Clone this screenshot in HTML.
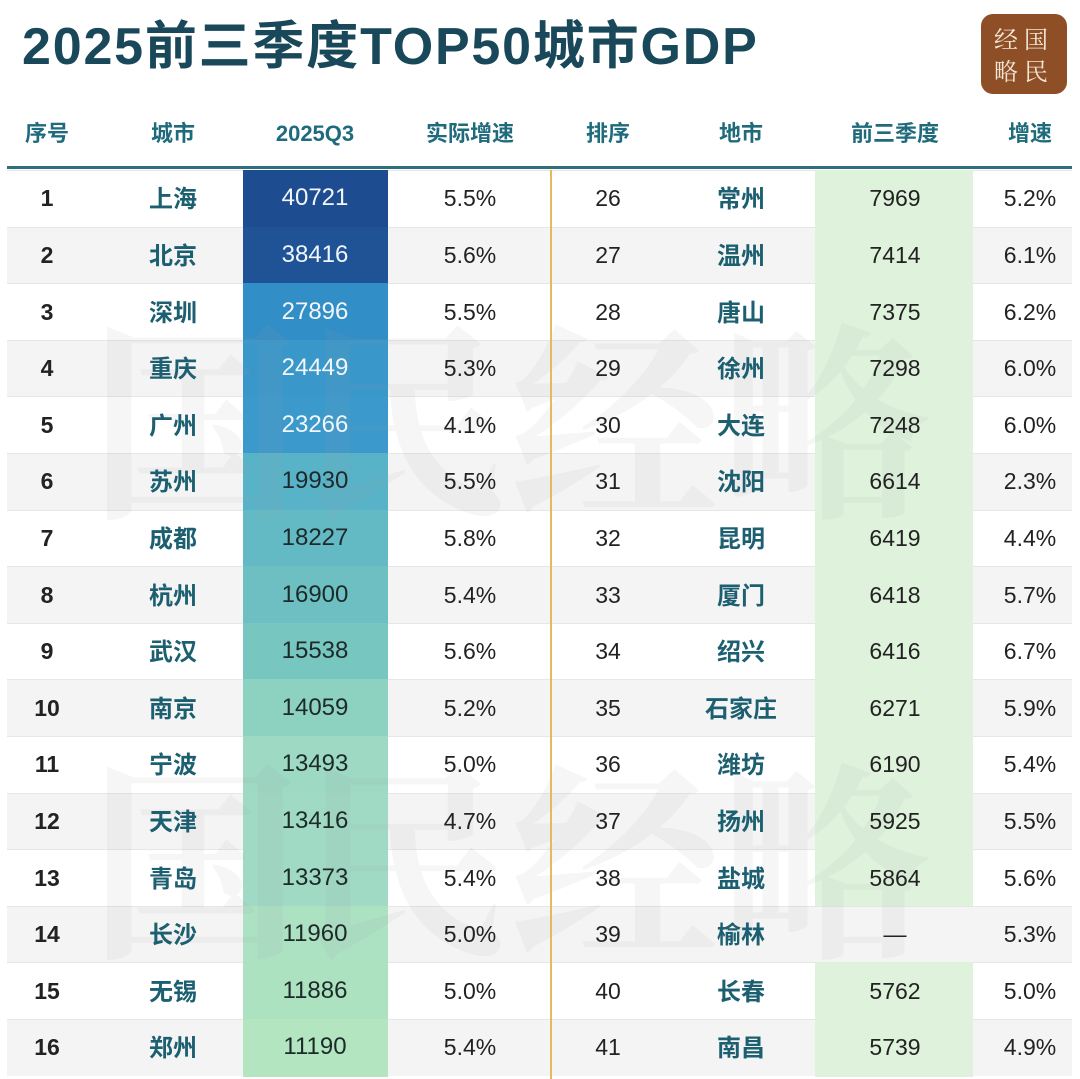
<!DOCTYPE html>
<html><head><meta charset="utf-8">
<style>
body{margin:0;width:1080px;height:1079px;overflow:hidden;background:#fff;font-family:"Liberation Sans","Noto Sans CJK SC",sans-serif;position:relative}
.abs{position:absolute}
.title{left:22px;top:12px;font-size:52px;line-height:70px;font-weight:bold;color:#18485a;letter-spacing:1.8px;white-space:nowrap;font-family:"Liberation Sans","Noto Sans CJK SC",sans-serif}
.logo{left:981px;top:14px;width:86px;height:80px;background:#8e4f26;border-radius:12px;color:#f3e6d6;font-family:"Noto Serif CJK SC",serif;font-size:24px;line-height:32px;text-align:center;padding-top:8px;box-sizing:border-box;letter-spacing:6px}
.hd{top:118px;height:32px;line-height:32px;font-size:22px;font-weight:bold;color:#1f6b7c;transform:translateX(-50%);white-space:nowrap}
.cell{font-size:23px;line-height:30px;color:#222;transform:translate(-50%,-50%);white-space:nowrap}
.city{font-weight:bold;color:#1c5f70;font-size:24px;margin-top:2px}
.idx{font-weight:bold}
.wm{color:rgba(150,160,165,0.09);font-size:210px;font-weight:bold;white-space:nowrap;font-family:"Noto Serif CJK SC",serif}
</style></head><body>
<div class="abs title">2025前三季度TOP50城市GDP</div>
<div class="abs logo">经国<br>略民</div>
<div class="abs hd" style="left:47px">序号</div>
<div class="abs hd" style="left:173px">城市</div>
<div class="abs hd" style="left:315px">2025Q3</div>
<div class="abs hd" style="left:470px">实际增速</div>
<div class="abs hd" style="left:608px">排序</div>
<div class="abs hd" style="left:741px">地市</div>
<div class="abs hd" style="left:895px">前三季度</div>
<div class="abs hd" style="left:1030px">增速</div>
<div class="abs" style="left:7px;top:166px;width:1065px;height:3px;background:#2f6e7c"></div>
<div id="tbl"></div>
<script>
const leftRank=[1,2,3,4,5,6,7,8,9,10,11,12,13,14,15,16];
const leftCity=["上海","北京","深圳","重庆","广州","苏州","成都","杭州","武汉","南京","宁波","天津","青岛","长沙","无锡","郑州"];
const leftGDP=[40721,38416,27896,24449,23266,19930,18227,16900,15538,14059,13493,13416,13373,11960,11886,11190];
const leftGrowth=["5.5%","5.6%","5.5%","5.3%","4.1%","5.5%","5.8%","5.4%","5.6%","5.2%","5.0%","4.7%","5.4%","5.0%","5.0%","5.4%"];
const rightRank=[26,27,28,29,30,31,32,33,34,35,36,37,38,39,40,41];
const rightCity=["常州","温州","唐山","徐州","大连","沈阳","昆明","厦门","绍兴","石家庄","潍坊","扬州","盐城","榆林","长春","南昌"];
const rightGDP=[7969,7414,7375,7298,7248,6614,6419,6418,6416,6271,6190,5925,5864,null,5762,5739];
const rightGrowth=["5.2%","6.1%","6.2%","6.0%","6.0%","2.3%","4.4%","5.7%","6.7%","5.9%","5.4%","5.5%","5.6%","5.3%","5.0%","4.9%"];

const top0=170,rowH=56.6;
const root=document.getElementById('tbl');
function colorFor(v){
  const stops=[[11000,[180,230,192]],[13400,[160,218,196]],[14500,[128,203,190]],[17000,[108,191,194]],[20000,[88,178,200]],[23000,[60,154,203]],[28000,[50,142,198]],[38000,[31,84,151]],[41000,[29,75,143]]];
  for(let i=1;i<stops.length;i++){if(v<=stops[i][0]){const a=stops[i-1],b=stops[i];const t=Math.max(0,(v-a[0])/(b[0]-a[0]));const c=a[1].map((x,k)=>Math.round(x+(b[1][k]-x)*t));return `rgb(${c})`;}}
  return 'rgb(29,75,143)';
}
function mk(cls,style,txt){const d=document.createElement('div');d.className='abs '+cls;d.style.cssText=style;if(txt!==undefined)d.textContent=txt;root.appendChild(d);return d;}
leftRank.forEach((r,i)=>{
  const y=top0+i*rowH;
  const bg=mk('',`left:7px;top:${y}px;width:1065px;height:${rowH}px;background:${i%2?'#f4f4f4':'#fff'};border-top:1px solid #e6e6e6;box-sizing:border-box`);
  
  
  const g=mk('',`left:243px;top:${y}px;width:145px;height:${rowH+1}px;background:${colorFor(leftGDP[i])}`);
  
  
  const rg=mk('',`left:815px;top:${y}px;width:158px;height:${rowH+1}px;background:${rightGDP[i]===null?'transparent':'#dff3dc'}`);
  
  
});
const wm1=mk('wm','left:90px;top:260px','国民经略');


const wm2=mk('wm','left:90px;top:700px','国民经略');


const dv=mk('',`left:550px;top:170px;width:2px;height:909px;background:#e8b860`);


leftRank.forEach((r,i)=>{
  const cy=top0+i*rowH+rowH/2;
  const a=mk('cell idx',`left:47px;top:${cy}px`,r);
  
  
  const b=mk('cell city',`left:173px;top:${cy}px`,leftCity[i]);
  
  
  const c=mk('cell',`left:315px;top:${cy}px;font-size:24px;color:${i<5?'#f2f6fa':'#1d2a2a'}`,leftGDP[i]);
  
  
  const d=mk('cell',`left:470px;top:${cy}px`,leftGrowth[i]);
  
  
  const e=mk('cell',`left:608px;top:${cy}px`,rightRank[i]);
  
  
  const f=mk('cell city',`left:741px;top:${cy}px`,rightCity[i]);
  
  
  const h=mk('cell',`left:895px;top:${cy}px`,rightGDP[i]===null?'—':rightGDP[i]);
  
  
  const k=mk('cell',`left:1030px;top:${cy}px`,rightGrowth[i]);
  
  
});
</script>
</body></html>
